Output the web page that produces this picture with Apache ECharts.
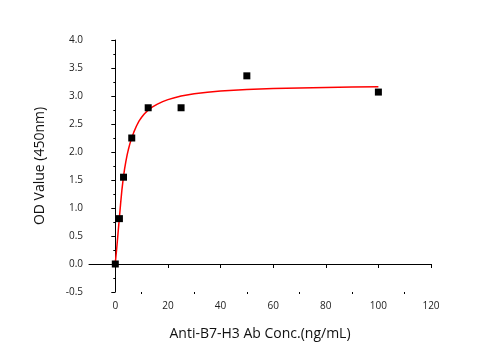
<!DOCTYPE html>
<html><head><meta charset="utf-8">
<script src="https://cdn.jsdelivr.net/npm/echarts@6/dist/echarts.min.js"></script>
<style>html,body{margin:0;padding:0;background:#fff}#c{width:501px;height:350px}</style>
</head><body><div id="c"></div>
<script>
var concX = [0, 1.5625, 3.125, 6.25, 12.5, 25, 50, 100];
var odY = [0.0, 0.81, 1.55, 2.25, 2.79, 2.79, 3.36, 3.07];
var fitX = [0, 0.5, 1, 1.5, 2, 2.5, 3, 3.5, 4, 4.5, 5, 5.5, 6, 7, 8, 9, 10, 11, 12, 13, 14, 16, 18, 20, 22.5, 25, 30, 35, 40, 50, 60, 70, 80, 90, 100];
var fitY = [0.02, 0.26, 0.53, 0.80, 1.07, 1.32, 1.52, 1.69, 1.83, 1.95, 2.05, 2.14, 2.22, 2.35, 2.46, 2.55, 2.62, 2.68, 2.725, 2.765, 2.80, 2.855, 2.90, 2.935, 2.97, 3.00, 3.04, 3.068, 3.088, 3.115, 3.133, 3.145, 3.153, 3.16, 3.165];
var xMajor = [0, 20, 40, 60, 80, 100, 120];
var xMinor = [10, 30, 50, 70, 90, 110];
var xTitle = 'Anti-B7-H3 Ab Conc.(ng/mL)';
var yTitle = 'OD Value (450nm)';

var chart = echarts.init(document.getElementById('c'));
var font = 'Open Sans';
chart.setOption({
  animation: false,
  grid: {left: 89, right: 70, top: 40, bottom: 58},
  xAxis: [{
    type: 'value', min: -10, max: 120, interval: 10,
    name: xTitle, nameLocation: 'middle', nameGap: 35,
    nameTextStyle: {fontFamily: font, fontSize: 14, color: '#111'},
    axisLine: {lineStyle: {color: '#000', width: 1}},
    axisTick: {length: 4, customValues: xMajor, lineStyle: {color: '#000'}},
    axisLabel: {fontFamily: font, fontSize: 10, color: '#222', margin: 9, customValues: xMajor},
    splitLine: {show: false}
  }, {
    type: 'value', min: -10, max: 120, interval: 10, position: 'bottom',
    axisLine: {show: false},
    axisTick: {show: true, length: 2, customValues: xMinor, lineStyle: {color: '#000'}},
    axisLabel: {show: false},
    splitLine: {show: false}
  }],
  yAxis: {
    type: 'value', min: -0.5, max: 4, interval: 0.5,
    name: yTitle, nameLocation: 'middle', nameGap: 42,
    nameTextStyle: {fontFamily: font, fontSize: 14, color: '#111'},
    axisLine: {show: true, lineStyle: {color: '#000', width: 1}},
    axisTick: {show: true, length: 4, lineStyle: {color: '#000'}},
    minorTick: {show: true, splitNumber: 2, length: 2, lineStyle: {color: '#000'}},
    axisLabel: {fontFamily: font, fontSize: 10, color: '#222', margin: 6,
      formatter: function(v){ return v.toFixed(1); }},
    splitLine: {show: false}
  },
  series: [
    {type: 'line', data: fitX.map(function(x,i){return [x, fitY[i]];}),
     smooth: false, showSymbol: false, lineStyle: {color: '#ff0000', width: 1.5}, z: 2},
    {type: 'scatter', data: concX.map(function(x,i){return [x, odY[i]];}),
     symbol: 'rect', symbolSize: 7, itemStyle: {color: '#000', opacity: 1}, z: 3}
  ]
});
</script></body></html>
